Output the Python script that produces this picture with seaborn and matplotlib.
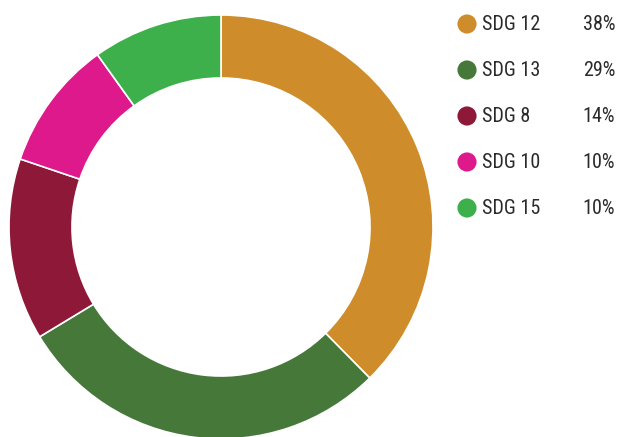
import matplotlib
matplotlib.use("Agg")
import matplotlib.pyplot as plt
import seaborn as sns
import pandas as pd

labels = ["SDG 12", "SDG 13", "SDG 8", "SDG 10", "SDG 15"]
values = [38, 29, 14, 10, 10]
pct_labels = ["38%", "29%", "14%", "10%", "10%"]
colors = ["#CE8D2A", "#46783A", "#8E1838", "#DE198C", "#3DB04B"]

sns.set_theme(style="white")
plt.rcParams['font.family'] = ['Roboto Condensed', 'Liberation Sans Narrow', 'Roboto', 'DejaVu Sans']

W, H = 619, 437
fig = plt.figure(figsize=(W / 100, H / 100), dpi=100)

# Donut
cx, cy_top, R = 221, 227, 212
cy = H - cy_top
ax = fig.add_axes([(cx - R) / W, (cy - R) / H, 2 * R / W, 2 * R / H])
ax.pie(values, colors=colors, startangle=90, counterclock=False, radius=1,
       wedgeprops=dict(width=0.297, edgecolor="white", linewidth=1.2))
ax.set_xlim(-1, 1)
ax.set_ylim(-1, 1)
ax.set_aspect("equal")
ax.axis("off")

# Legend
lax = fig.add_axes([0, 0, 1, 1])
lax.set_xlim(0, W)
lax.set_ylim(H, 0)
lax.axis("off")
y0, dy = 24, 46
df = pd.DataFrame({"label": labels, "x": [467] * len(labels),
                   "y": [y0 + i * dy for i in range(len(labels))]})
sns.scatterplot(data=df, x="x", y="y", hue="label", palette=colors, s=190,
                linewidth=0, legend=False, ax=lax)
for i, (lab, p) in enumerate(zip(labels, pct_labels)):
    yy = y0 + i * dy
    lax.text(482, yy + 1, lab, fontsize=14.5, color="#2a2a2a", va="center", ha="left")
    lax.text(615, yy + 1, p, fontsize=14.5, color="#2a2a2a", va="center", ha="right")

fig.savefig("out.png", dpi=100)
